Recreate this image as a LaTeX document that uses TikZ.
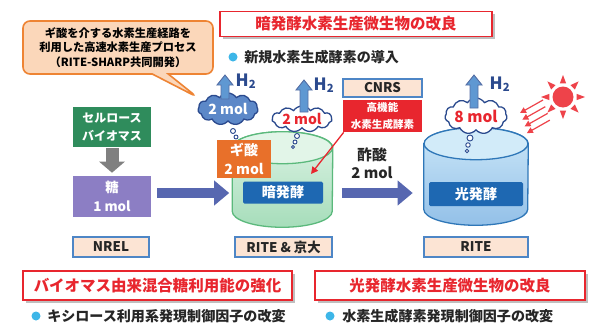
\documentclass[tikz,border=0pt]{standalone}
\usepackage{fontspec}
\setmainfont{Noto Sans CJK JP}
\usetikzlibrary{shapes.symbols,shapes.callouts,arrows.meta,shadows}

% one unit of the picture
\newlength{\pxu}
\setlength{\pxu}{0.025cm}

\definecolor{hired}{HTML}{E8262E}
\definecolor{bulletcyan}{HTML}{3DB6E8}
\definecolor{biogreen}{HTML}{2F8C5C}
\definecolor{sugarpurple}{HTML}{8C7EC4}
\definecolor{flowblue}{HTML}{5767B0}
\definecolor{formicorange}{HTML}{E8702A}
\definecolor{navy}{HTML}{2B4A8E}
\definecolor{cloudblue}{HTML}{5C88C8}
\definecolor{peach}{HTML}{FCE4D4}
\definecolor{framebl}{HTML}{4E86C6}
\definecolor{lblblue}{HTML}{1E68B2}
\definecolor{upblue}{HTML}{5F98D2}
\definecolor{notefill}{HTML}{FBD7BA}
\definecolor{noteline}{HTML}{EE8434}
\definecolor{darkhi}{HTML}{DDF3E5}
\definecolor{darklo}{HTML}{A6DDBA}
\definecolor{darktop}{HTML}{E2F5E8}
\definecolor{darkline}{HTML}{5BB97C}
\definecolor{photohi}{HTML}{CBE7F8}
\definecolor{photolo}{HTML}{93C0E8}
\definecolor{phototop}{HTML}{D2EBF9}
\definecolor{photoline}{HTML}{2F77B8}
\definecolor{sunred}{HTML}{EE434A}

% tank drawn inside the frame of node #1: half width, shade top, shade bottom, lid, rim
\newcommand{\tank}[6]{%
  \draw[draw=#6, line width=1.3\pxu, top color=#3, bottom color=#4]
    ([yshift=-16\pxu]#1.north west) -- ([yshift=16\pxu]#1.south west)
    arc[start angle=180, end angle=360, x radius=#2\pxu, y radius=16\pxu]
    -- ([yshift=-16\pxu]#1.north east)
    arc[start angle=0, end angle=180, x radius=#2\pxu, y radius=16\pxu] -- cycle;
  \draw[draw=#6, line width=1.3\pxu, fill=#5]
    ([yshift=-16\pxu]#1.north) ellipse[x radius=#2\pxu, y radius=16\pxu];
}

\tikzset{
  headline/.style={draw=hired, line width=1.6\pxu, fill=white, text=hired,
    font=\fontsize{11pt}{13pt}\selectfont\bfseries, minimum height=25\pxu,
    drop shadow={shadow xshift=2.5\pxu, shadow yshift=-2.5\pxu, opacity=.5}},
  bulletdot/.style={circle, fill=bulletcyan, minimum size=9\pxu, inner sep=0pt},
  pointtext/.style={anchor=west, text=black!85, inner sep=0pt,
    font=\fontsize{10pt}{12pt}\selectfont\bfseries},
  block/.style={text=white, align=center, inner sep=0pt,
    font=\fontsize{9.5pt}{13pt}\selectfont\bfseries},
  lab/.style={draw=framebl, fill=peach, line width=1.3\pxu, inner sep=0pt,
    minimum height=20\pxu, text=black!85, font=\fontsize{9.5pt}{11pt}\selectfont\bfseries},
  frame/.style={inner sep=0pt},
  vlabel/.style={fill=lblblue, text=white, rounded corners=1.5\pxu, inner sep=0pt,
    font=\fontsize{10pt}{12pt}\selectfont\bfseries},
  mol/.style={cloud, cloud puffs=11, cloud puff arc=115, cloud ignores aspect,
    draw=navy, line width=1.3\pxu, inner sep=0pt, font=\fontsize{10pt}{12pt}\selectfont\bfseries},
  bubble/.style={circle, draw=navy, fill=white, line width=0.9\pxu, inner sep=0pt},
  htwo/.style={text=navy, inner sep=0pt, font=\fontsize{12pt}{14pt}\selectfont\bfseries},
  flow/.style={draw=flowblue, line width=10\pxu, -{Triangle[width=0.6cm,length=0.375cm]}},
  uparrow/.style={draw=navy!80, fill=upblue, line width=0.9\pxu},
  pics/h2up/.style={code={
    \draw[uparrow] (-4,0) -- (-4,10-#1) -- (-8,10-#1) -- (0,-#1)
      -- (8,10-#1) -- (4,10-#1) -- (4,0) -- cycle;}}
}

\begin{document}
\begin{tikzpicture}[x=0.025cm,y=-0.025cm]
\fill[white] (0,0) rectangle (601,323);

% speech bubble
\coordinate (tip) at (197,97);
\node[rectangle callout, callout absolute pointer={(tip)}, callout pointer width=16\pxu,
  rounded corners=7\pxu, draw=noteline, fill=notefill, line width=1.6\pxu,
  minimum width=190\pxu, minimum height=53\pxu, align=center, inner sep=0pt,
  font=\fontsize{8pt}{10.5pt}\selectfont\bfseries] (note) at (118,47.5)
  {ギ酸を介する水素生産経路を\\利用した高速水素生産プロセス\\（RITE-SHARP共同開発）};

\node[headline, minimum width=272\pxu] (tdark) at (356,24) {暗発酵水素生産微生物の改良};
\node[bulletdot] (d1) at (233,57) {};
\node[pointtext] (p1) at (244,57) {新規水素生成酵素の導入};

% biomass -> sugar
\node[block, fill=biogreen, minimum width=78\pxu, minimum height=40\pxu,
  font=\fontsize{8.5pt}{12.5pt}\selectfont\bfseries] (bio) at (112,127) {セルロース\\バイオマス};
\node[block, fill=sugarpurple, minimum width=78\pxu, minimum height=41\pxu] (sugar) at (112,196.5) {糖\\1 mol};
\draw[draw=black!50, line width=13\pxu, -{Triangle[width=0.625cm,length=0.275cm]},
  shorten <=1\pxu, shorten >=3\pxu] (bio) -- (sugar);

% dark fermentation
\node[frame, minimum width=100\pxu, minimum height=95\pxu] (dark) at (282.5,179.5) {};
\tank{dark}{50}{darkhi}{darklo}{darktop}{darkline}
\node[vlabel, minimum width=80\pxu, minimum height=22\pxu] (darklbl) at (283,192.5) {暗発酵};
\node[block, fill=formicorange, minimum width=54\pxu, minimum height=38\pxu,
  font=\fontsize{10pt}{14pt}\selectfont\bfseries] (formic) at (244,159) {ギ酸\\2 mol};

% photo fermentation
\node[frame, minimum width=104\pxu, minimum height=97\pxu] (photo) at (476,176.5) {};
\tank{photo}{52}{photohi}{photolo}{phototop}{photoline}
\node[vlabel, minimum width=94\pxu, minimum height=24\pxu] (photolbl) at (476,194) {光発酵};

% hydrogen clouds
\node[mol, fill=cloudblue, text=white, minimum width=60\pxu, minimum height=32\pxu] (gasA) at (228,109) {2 mol};
\node[bubble, minimum size=5\pxu] (gasA1) at (233,131) {};
\node[bubble, minimum size=4\pxu] (gasA2) at (236,137) {};
\node[mol, fill=white, text=hired, minimum width=60\pxu, minimum height=26\pxu] (gasB) at (302,119) {2 mol};
\node[bubble, minimum size=5\pxu] (gasB1) at (297,136) {};
\node[bubble, minimum size=4\pxu] (gasB2) at (295,142) {};
\node[bubble, minimum size=3\pxu] (gasB3) at (293,147) {};
\node[mol, fill=white, text=hired, minimum width=62\pxu, minimum height=36\pxu,
  font=\fontsize{11pt}{13pt}\selectfont\bfseries] (gasC) at (476,116) {8 mol};
\node[bubble, minimum size=6\pxu] (gasC1) at (470,138) {};
\node[bubble, minimum size=4.5\pxu] (gasC2) at (468,145) {};
\node[bubble, minimum size=3.5\pxu] (gasC3) at (467,151) {};

\pic at (225,99) {h2up=24};
\pic at (304,112) {h2up=32};
\pic at (474,108) {h2up=33};
\node[htwo] (hA) at (246,81) {H\textsubscript{2}};
\node[htwo] (hB) at (324,85) {H\textsubscript{2}};
\node[htwo] (hC) at (500,84) {H\textsubscript{2}};

% enzyme from CNRS
\node[lab, minimum width=79\pxu, minimum height=18\pxu] (cnrs) at (382.5,88) {CNRS};
\node[block, fill=hired, minimum width=79\pxu, minimum height=32\pxu,
  font=\fontsize{7.5pt}{11.5pt}\selectfont\bfseries] (enzyme) at (382.5,116) {高機能\\水素生成酵素};
\coordinate (enzymetip) at (311,174);
\draw[hired, line width=1.3\pxu, -{Triangle[width=0.175cm,length=0.175cm]}]
  ([xshift=1\pxu]enzyme.south west) -- (enzymetip);

\node[align=center, text=black!85, inner sep=0pt,
  font=\fontsize{10.5pt}{12.5pt}\selectfont\bfseries] (acetic) at (372,163) {酢酸\\2 mol};

% main flow
\coordinate (flowline) at (0,193);
\draw[flow, shorten <=6\pxu, shorten >=3\pxu] (sugar.east |- flowline) -- (dark.west |- flowline);
\draw[flow, shorten <=9\pxu, shorten >=11\pxu] (dark.east |- flowline) -- (photo.west |- flowline);

% sun and light
\node[circle, fill=sunred, minimum size=21\pxu, inner sep=0pt] (sun) at (563,97) {};
\begin{scope}[shift={(sun.center)}]
  \foreach \a in {0,45,...,315}
    \fill[sunred] (\a:22) -- (\a+13:14) -- (\a-13:14) -- cycle;
\end{scope}
\coordinate (rayfrom) at (543,100);
\coordinate (rayto) at (520,113);
\foreach \i in {0,...,3}
  \draw[sunred, line width=1.2\pxu, -{Triangle[width=0.15cm,length=0.15cm]}]
    ([shift={(2.3*\i,6.7*\i)}]rayfrom) -- ([shift={(2.3*\i,6.7*\i)}]rayto);

% who does what
\node[lab, minimum width=76\pxu] (nrel) at (111,247) {NREL};
\node[lab, minimum width=97\pxu] (ritek) at (283.5,247) {RITE \& 京大};
\node[lab, minimum width=104\pxu] (rite) at (476,247) {RITE};

\node[headline, minimum width=269\pxu, minimum height=29\pxu] (tsugar) at (157.5,285.5) {バイオマス由来混合糖利用能の強化};
\node[headline, minimum width=270\pxu, minimum height=29\pxu] (tphoto) at (450,285.5) {光発酵水素生産微生物の改良};
\node[bulletdot] (d2) at (36,316) {};
\node[pointtext] (p2) at (47,316) {キシロース利用系発現制御因子の改変};
\node[bulletdot] (d3) at (330,316) {};
\node[pointtext] (p3) at (342,316) {水素生成酵素発現制御因子の改変};
\end{tikzpicture}
\end{document}
